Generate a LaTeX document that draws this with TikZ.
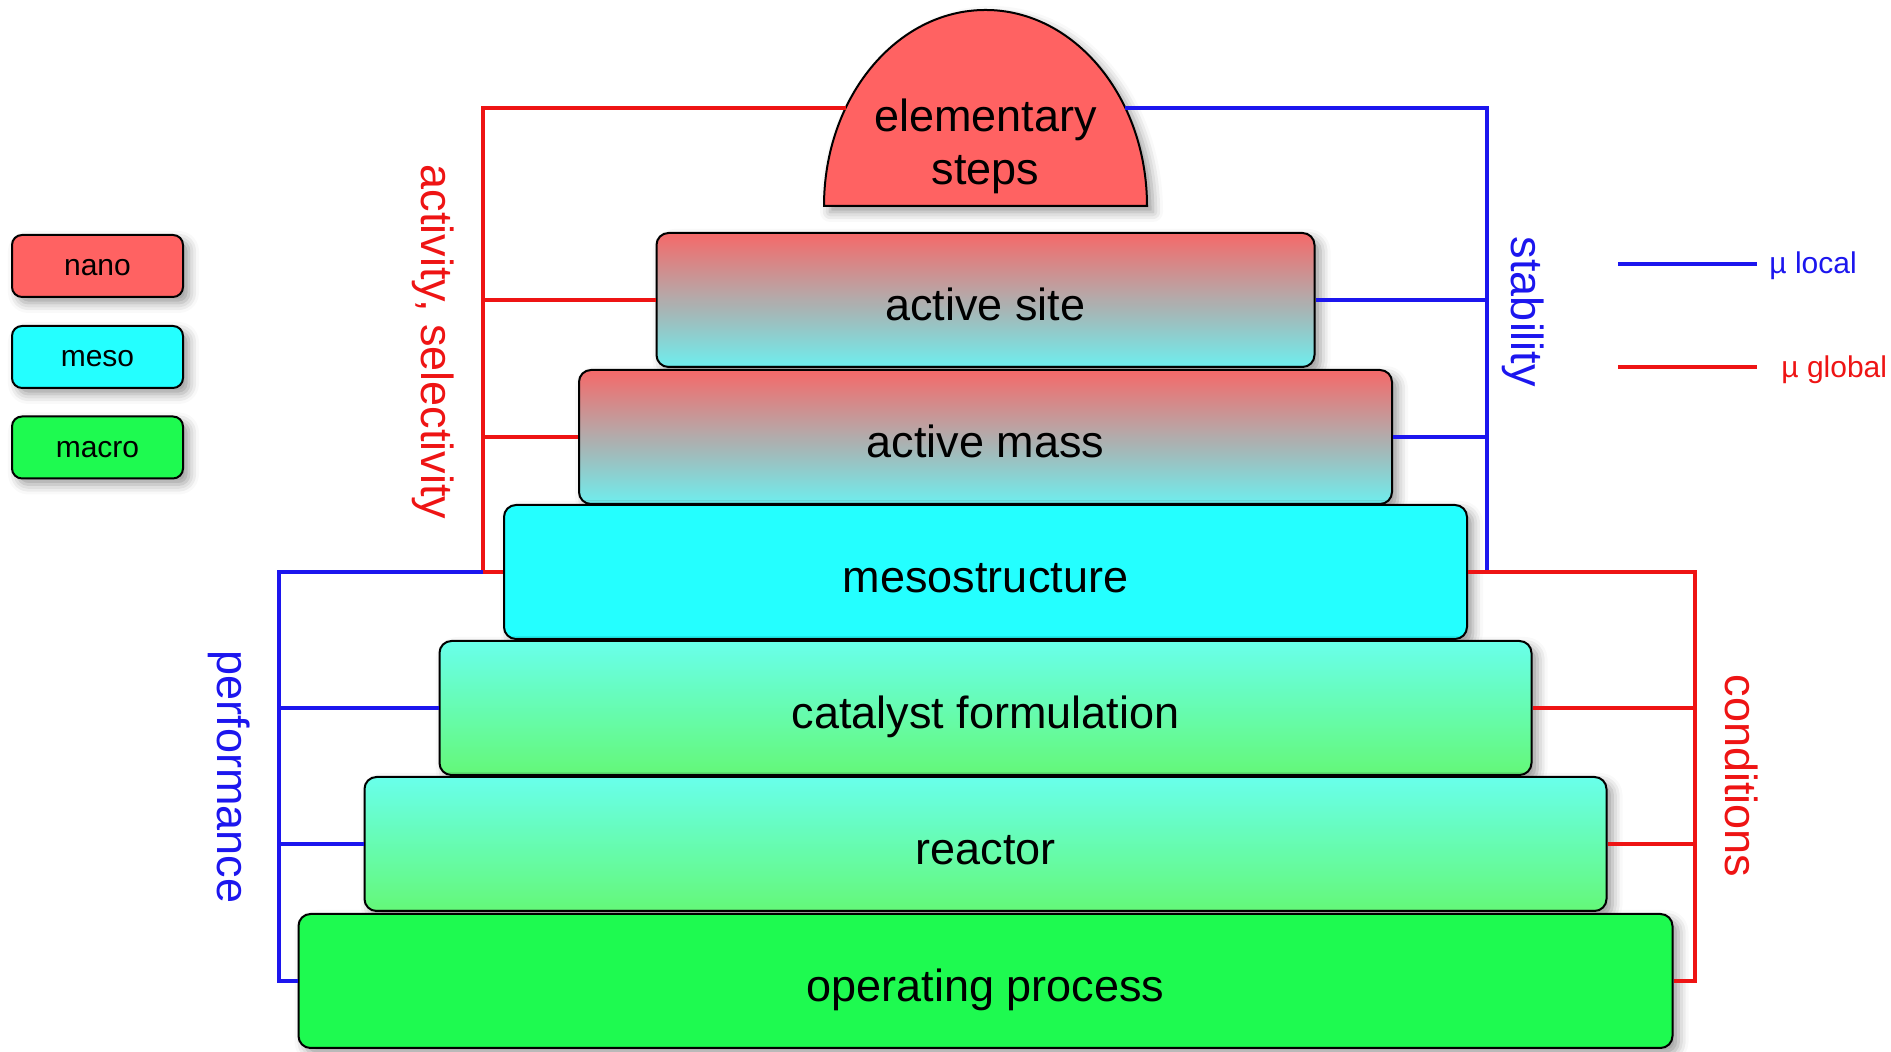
\documentclass[tikz,border=0pt]{standalone}
\usepackage{fontspec}
\setmainfont{Liberation Sans}
\usetikzlibrary{shadows.blur}
\definecolor{nanored}{RGB}{255,98,98}
\definecolor{mesocyan}{RGB}{36,255,255}
\definecolor{macrogreen}{RGB}{30,250,80}
\definecolor{fadered}{RGB}{245,105,105}
\definecolor{fadecyan}{RGB}{110,238,238}
\definecolor{lightcyan}{RGB}{105,255,235}
\definecolor{lightgreen}{RGB}{100,248,120}
\definecolor{locblue}{RGB}{28,22,238}
\definecolor{globred}{RGB}{238,20,20}

\begin{document}
\begin{tikzpicture}[x=0.5pt,y=0.5pt,
  shade/.style={blur shadow={shadow xshift=3pt,shadow yshift=-3pt,shadow blur radius=5pt}},
  layer/.style={draw=black,line width=1pt,rounded corners=6pt,minimum height=67pt,inner sep=0pt,
    text height=21pt,text depth=0pt,font=\fontsize{22.5}{26.5}\selectfont,shade},
  legbox/.style={draw=black,line width=1pt,rounded corners=5pt,minimum width=85.5pt,
    minimum height=31pt,inner sep=0pt,text height=10pt,text depth=0pt,
    font=\fontsize{15}{18}\selectfont,shade},
  loc/.style={draw=locblue,line width=2pt},
  glob/.style={draw=globred,line width=2pt},
  side/.style={rotate=-90,inner sep=0pt,font=\fontsize{22.5}{26.5}\selectfont},
  legtxt/.style={inner sep=6pt,font=\fontsize{15}{18}\selectfont}]
\useasboundingbox (0,0) rectangle (1891,1052);
% dome
\draw[line width=1pt,fill=nanored,shade] (824,846) arc[start angle=180,end angle=0,x radius=80.75pt,y radius=98pt] -- cycle;
\node[align=center,inner sep=0pt,font=\fontsize{22.5}{26.5}\selectfont] (es) at (985.5,906) {elementary\\steps};
\coordinate (esL) at (845.6,944);
\coordinate (esR) at (1125.4,944);
% layers, top to bottom
\foreach \n/\yy/\w/\tc/\bc/\txt in {
  site/752/658/fadered/fadecyan/active site,
  mass/615/813/fadered/fadecyan/active mass,
  meso/480/963/mesocyan/mesocyan/mesostructure,
  cat/344/1092/lightcyan/lightgreen/catalyst formulation,
  reac/208/1242/lightcyan/lightgreen/reactor,
  op/71/1374/macrogreen/macrogreen/operating process}{
  \node[layer,minimum width=\w*0.5pt,top color=\tc,bottom color=\bc] (\n) at (985.5,\yy) {\txt};
}
% bracket positions
\coordinate (actx) at (483,0);
\coordinate (stabx) at (1487,0);
\coordinate (perfx) at (279,0);
\coordinate (condx) at (1695,0);
% activity, selectivity
\draw[glob] (esL) -- (esL -| actx) |- (meso.west);
\foreach \n in {site,mass} \draw[glob] (\n.west) -- (\n.west -| actx);
% stability
\draw[loc] (esR) -- (esR -| stabx) -- (meso.east -| stabx);
\foreach \n in {site,mass} \draw[loc] (\n.east) -- (\n.east -| stabx);
% performance
\draw[loc] (meso.west -| actx) -| (perfx |- op.west) -- (op.west);
\foreach \n in {cat,reac} \draw[loc] (\n.west) -- (\n.west -| perfx);
% conditions
\draw[glob] (meso.east) -| (condx |- op.east) -- (op.east);
\foreach \n in {cat,reac} \draw[glob] (\n.east) -- (\n.east -| condx);
% side labels
\node[side,text=globred] (actlab) at (433,710) {activity, selectivity};
\node[side,text=locblue] (stablab) at (1523,740) {stability};
\node[side,text=locblue] (perflab) at (229,275) {performance};
\node[side,text=globred] (condlab) at (1742,276) {conditions};
% legend
\node[legbox,fill=nanored] (nano) at (97.5,786) {nano};
\node[legbox,fill=mesocyan] (mesol) at (97.5,695) {meso};
\node[legbox,fill=macrogreen] (macro) at (97.5,604.5) {macro};
\coordinate (lk) at (1618,788);
\node[legtxt,anchor=west,text=locblue] (lok) at (1757,786) {µ local};
\draw[loc] (lk) -- (lok.west |- lk);
\coordinate (gk) at (1618,685);
\node[legtxt,anchor=west,text=globred] (glb) at (1769,682) {µ global};
\draw[glob] (gk) -- ([xshift=-6pt]glb.west |- gk);
\end{tikzpicture}
\end{document}
